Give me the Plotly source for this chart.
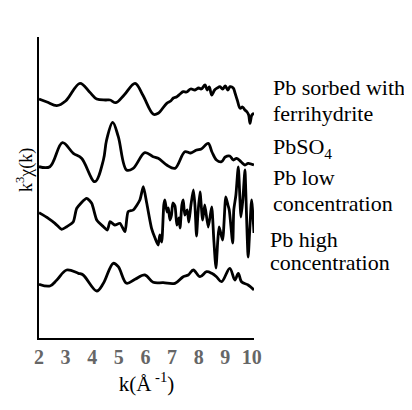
import plotly.graph_objects as go

# Pb sorbed with ferrihydrite
k_ferri = [2.0, 2.3, 2.67, 3.0, 3.54, 3.9, 4.17, 4.5, 4.67, 4.89, 5.2, 5.61, 5.9, 6.30, 6.48, 6.8, 6.95,
           7.05, 7.18, 7.3, 7.42, 7.55, 7.7, 7.86, 8.0, 8.1, 8.24, 8.32, 8.4, 8.49, 8.6, 8.7, 8.8, 8.9,
           9.0, 9.1, 9.18, 9.3, 9.37, 9.45, 9.56, 9.65, 9.74, 9.82, 9.88, 9.93, 10.0, 10.08]
y_ferri = [23.9, 23.6, 23.23, 23.7, 25.47, 24.6, 23.9, 23.8, 23.8, 23.53, 24.3, 25.47, 24.3, 22.37, 22.47,
           23.47, 23.7, 24.0, 24.13, 24.4, 24.63, 24.6, 24.9, 24.8, 25.0, 24.9, 25.3, 24.8, 25.1, 24.3,
           24.8, 25.0, 25.13, 24.9, 25.2, 24.8, 25.13, 25.0, 24.47, 23.8, 22.97, 23.1, 22.8, 22.6, 22.3,
           21.47, 22.3, 22.47]

# PbSO4
k_so4 = [2.0, 2.41, 2.88, 3.29, 3.60, 4.10, 4.42, 4.54, 4.77, 4.98, 5.29, 5.54, 5.98, 6.29, 6.48, 6.80,
         7.11, 7.48, 7.7, 7.92, 8.1, 8.36, 8.5, 8.67, 8.86, 9.0, 9.17, 9.3, 9.43, 9.6, 9.74, 9.86, 10.08]
y_so4 = [17.13, 17.13, 19.53, 18.47, 17.97, 15.63, 17.8, 19.8, 21.57, 20.13, 16.8, 16.97, 18.53, 18.13,
         17.97, 17.3, 16.97, 18.63, 18.5, 18.8, 18.9, 19.47, 18.6, 17.8, 17.63, 18.1, 18.2, 17.8, 17.97,
         17.6, 17.3, 17.47, 17.3]

# Pb low concentration
k_low = [2.0, 2.35, 2.60, 2.85, 3.04, 3.29, 3.42, 3.79, 3.98, 4.17, 4.42, 4.57, 4.67, 4.85, 5.04, 5.23,
         5.35, 5.54, 5.79, 5.92, 6.05, 6.23, 6.36, 6.48, 6.54, 6.61, 6.69, 6.73, 6.81, 6.86, 6.92, 6.98,
         7.03, 7.11, 7.18, 7.26, 7.30, 7.37, 7.42, 7.48, 7.57, 7.63, 7.71, 7.80, 7.86, 7.92, 7.97, 8.05,
         8.15, 8.23, 8.36, 8.49, 8.57, 8.65, 8.72, 8.77, 8.90, 9.02, 9.10, 9.15, 9.28, 9.32, 9.40, 9.49,
         9.59, 9.66, 9.74, 9.77, 9.86, 9.92, 9.99, 10.08]
y_low = [12.53, 11.97, 11.47, 10.87, 11.13, 11.63, 12.97, 13.97, 13.47, 11.8, 11.13, 10.8, 11.63, 11.3,
         11.47, 10.63, 12.63, 12.8, 13.8, 15.13, 13.47, 10.97, 10.0, 9.3, 10.3, 9.6, 13.3, 13.8, 12.6,
         13.0, 11.8, 12.3, 13.5, 13.2, 11.3, 12.0, 11.0, 13.3, 13.8, 12.3, 12.8, 11.6, 13.3, 14.8, 13.3,
         10.2, 12.3, 14.6, 11.8, 13.3, 11.1, 13.1, 9.8, 7.0, 9.8, 11.1, 9.8, 14.1, 13.3, 12.8, 9.5, 12.8,
         14.3, 17.1, 12.1, 13.8, 16.8, 14.8, 8.1, 10.8, 13.8, 10.5]

# Pb high concentration
k_high = [2.0, 2.41, 2.67, 3.04, 3.48, 3.66, 4.17, 4.42, 4.79, 4.98, 5.29, 5.61, 5.98, 6.29, 6.67, 7.11,
          7.42, 7.61, 7.80, 8.05, 8.30, 8.49, 8.67, 8.86, 9.17, 9.36, 9.49, 9.61, 9.86, 10.08]
y_high = [5.37, 5.2, 5.8, 6.8, 6.47, 6.3, 4.7, 5.47, 7.47, 7.13, 5.47, 5.87, 6.3, 5.57, 5.53, 5.47, 6.13,
          6.3, 6.8, 6.13, 6.63, 6.47, 6.13, 5.63, 6.97, 5.8, 6.47, 5.63, 5.3, 4.8]

series_k = [k_ferri, k_so4, k_low, k_high]
series_y = [y_ferri, y_so4, y_low, y_high]
series_names = ["Pb sorbed with ferrihydrite", "PbSO4", "Pb low concentration", "Pb high concentration"]
tick_vals = [2, 3, 4, 5, 6, 7, 8, 9, 10]

label_lines = ["Pb sorbed with", "ferrihydrite", "PbSO<sub>4</sub>", "Pb low", "concentration",
               "Pb high", "concentration"]
label_x = [1.081, 1.081, 1.081, 1.077, 1.077, 1.063, 1.063]
label_y = [0.8306, 0.7475, 0.6312, 0.5316, 0.4485, 0.3256, 0.2492]

fig = go.Figure()
for kk, yy, nm in zip(series_k, series_y, series_names):
    smooth = 0.6 if nm == "Pb low concentration" else 1.0
    fig.add_trace(go.Scatter(x=kk, y=yy, mode="lines", name=nm,
                             line=dict(color="black", width=2.8, shape="spline", smoothing=smooth)))

serif = "Liberation Serif"
for txt, lx, ly in zip(label_lines, label_x, label_y):
    fig.add_annotation(text=txt, x=lx, y=ly, xref="paper", yref="paper", xanchor="left",
                       yanchor="middle", showarrow=False, font=dict(family=serif, size=22, color="black"))

fig.add_annotation(text="k<sup>3</sup>χ(k)", x=-0.065, y=0.558, xref="paper", yref="paper",
                   textangle=-90, showarrow=False, xanchor="center", yanchor="middle",
                   font=dict(family=serif, size=18, color="black"))

fig.update_layout(
    width=412, height=410,
    margin=dict(l=31, r=166, t=29, b=80),
    paper_bgcolor="white", plot_bgcolor="white",
    showlegend=False,
    xaxis=dict(range=[2, 10.08], tickvals=tick_vals, ticks="", showgrid=False, zeroline=False,
               showline=True, linecolor="black", linewidth=2,
               tickfont=dict(family=serif, size=20, color="#666666", weight="bold"),
               title=dict(text="k(Å<sup> -1</sup>)", font=dict(family=serif, size=21, color="black"),
                          standoff=9)),
    yaxis=dict(range=[0, 30.1], showticklabels=False, ticks="", showgrid=False, zeroline=False,
               showline=True, linecolor="black", linewidth=2),
)

fig.write_html("out.html")
